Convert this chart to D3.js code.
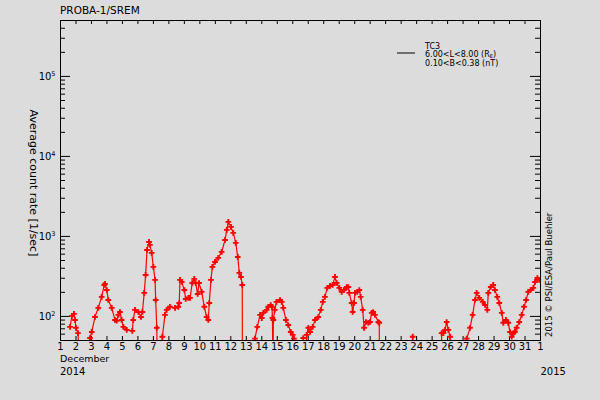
<!DOCTYPE html>
<html>
<head>
<meta charset="utf-8">
<script src="https://cdnjs.cloudflare.com/ajax/libs/d3/7.8.5/d3.min.js"></script>
<style>
body { margin: 0; background: #dcdcdc; }
svg { display: block; font-family: "DejaVu Sans", sans-serif; }
.axis path, .axis line { stroke: #000; stroke-width: 1; }
.axis text { fill: #000; font-size: 10px; font-family: "DejaVu Sans", sans-serif; }
</style>
</head>
<body>
<div id="chart"></div>
<script>

var title = "PROBA-1/SREM";
var yLabel = "Average count rate [1/sec]";
var credit = "2015 \u00a9 PSI/ESA/Paul Buehler";
var legendName = "TC3";
var legendL = "6.00<L<8.00";
var legendB = "0.10<B<0.38 (nT)";
var monthLabel = "December";
var yearStart = "2014";
var yearEnd = "2015";

// day-of-month tick labels (last one is 1 January)
var dayLabels = ["1","2","3","4","5","6","7","8","9","10","11","12","13","14","15","16",
                 "17","18","19","20","21","22","23","24","25","26","27","28","29","30","31","1"];
var decades = [100, 1000, 10000, 100000];
var decadeExps = ["2", "3", "4", "5"];

// time in days of December (fractional), count rate [1/sec]; 20 = below plotted range
var times = [
  1.65, 1.77, 1.90, 1.97, 2.03, 2.16, 2.30,
  2.90, 2.94, 3.05, 3.26, 3.47, 3.69, 3.86, 3.91, 4.02, 4.12, 4.34, 4.55, 4.66, 4.77, 4.87, 4.98,
  5.09, 5.31, 5.67, 5.73, 5.84, 6.06, 6.23, 6.32, 6.44, 6.53, 6.62, 6.75, 6.81, 6.92, 7.03, 7.14,
  7.18, 7.25, 7.29,
  7.58, 7.61, 7.78, 7.89, 8.10, 8.43, 8.64, 8.70, 8.75, 8.86, 9.03, 9.12, 9.29, 9.40, 9.54, 9.67,
  9.76, 9.89, 9.98, 10.15, 10.32, 10.47, 10.58, 10.64, 10.75, 10.84, 11.01, 11.22, 11.44, 11.66,
  11.77, 11.87, 12.04, 12.19, 12.35, 12.48, 12.58, 12.69, 12.77, 12.78,
  13.55, 13.59, 13.74, 13.92, 14.03, 14.13, 14.35, 14.45, 14.61, 14.69, 14.72, 14.75, 14.78, 14.87,
  14.98, 15.21, 15.32, 15.42, 15.59, 15.74, 15.90, 16.03, 16.11, 16.15,
  16.68, 16.71, 16.74,
  16.90, 16.93, 17.04, 17.15, 17.32, 17.47, 17.68, 17.84, 17.97, 18.11, 18.26, 18.44, 18.61, 18.76,
  18.87, 19.04, 19.19, 19.34, 19.52, 19.62, 19.68, 19.84, 19.90, 19.99, 20.05, 20.20, 20.33, 20.42,
  20.55, 20.64, 20.76, 20.91, 21.02, 21.13, 21.23, 21.34, 21.56, 21.62, 21.63,
  23.75, 23.78, 23.81,
  25.62, 25.65, 25.76, 25.87, 25.97, 26.08, 26.19, 26.22,
  27.24, 27.27, 27.48, 27.65, 27.80, 27.91, 28.08, 28.30, 28.45, 28.60, 28.66, 28.82, 28.98, 29.09,
  29.24, 29.37, 29.53, 29.63, 29.80, 29.95, 30.06, 30.17, 30.28, 30.38, 30.49, 30.66, 30.82, 30.97,
  31.10, 31.24, 31.40, 31.57, 31.68, 31.83, 31.95
];
var rates = [
  73, 100, 106, 89, 71, 61, 20,
  20, 53, 63, 97, 126, 173, 244, 251, 211, 158, 126, 89, 87, 103, 112, 89,
  73, 67, 65, 89, 119, 112, 97, 112, 194, 325, 668, 841, 772, 613, 410, 282,
  158, 71, 20,
  20, 55, 103, 119, 130, 126, 130, 145, 282, 266, 211, 163, 168, 168, 258, 290,
  258, 188, 258, 200, 130, 97, 89, 145, 282, 410, 473, 531, 631, 891,
  1189, 1496, 1296, 1090, 818, 546, 345, 307, 244, 20,
  20, 52, 73, 103, 94, 109, 119, 130, 137, 130, 94, 20, 89, 119,
  150, 158, 150, 126, 89, 77, 63, 58, 52, 20,
  20, 53, 20,
  20, 58, 71, 63, 73, 89, 97, 119, 150, 173, 224, 237, 244, 307,
  258, 224, 200, 211, 230, 230, 194, 145, 112, 145, 194, 200, 211, 173,
  119, 71, 84, 82, 84, 109, 112, 103, 84, 82, 20,
  20, 55, 20,
  20, 61, 61, 67, 84, 67, 55, 20,
  20, 52, 71, 103, 158, 194, 168, 150, 137, 119, 194, 230, 244, 211,
  173, 145, 109, 82, 89, 82, 63, 55, 61, 63, 71, 84, 103, 130,
  158, 200, 211, 224, 266, 298, 282
];

var margin = { left: 60, right: 60, top: 20, bottom: 60 };
var width = 600 - margin.left - margin.right;
var height = 400 - margin.top - margin.bottom;

var data = times.map(function(t, i) { return { t: t, v: rates[i] }; });

var svg = d3.select("#chart")
    .append("svg")
    .attr("width", 600)
    .attr("height", 400);

var x = d3.scaleLinear()
    .domain([1, 32])
    .range([margin.left, margin.left + width]);

var y = d3.scaleLog()
    .domain([50, 500000])
    .range([margin.top + height, margin.top]);

var minors = y.ticks().filter(function(d) { return decades.indexOf(d) < 0; });
var dayValues = dayLabels.map(function(d, i) { return i + 1; });

svg.append("defs").append("clipPath")
    .attr("id", "plotClip")
    .append("rect")
    .attr("x", margin.left)
    .attr("y", margin.top)
    .attr("width", width)
    .attr("height", height);

// left axis
svg.append("g")
    .attr("class", "axis")
    .attr("transform", "translate(" + margin.left + ",0)")
    .call(d3.axisLeft(y).tickValues(decades).tickSize(-10).tickSizeOuter(0).tickFormat(""));
svg.append("g")
    .attr("class", "axis")
    .attr("transform", "translate(" + margin.left + ",0)")
    .call(d3.axisLeft(y).tickValues(minors).tickSize(-5).tickSizeOuter(0).tickFormat(""));

// right axis
svg.append("g")
    .attr("class", "axis")
    .attr("transform", "translate(" + (margin.left + width) + ",0)")
    .call(d3.axisRight(y).tickValues(decades).tickSize(-10).tickSizeOuter(0).tickFormat(""));
svg.append("g")
    .attr("class", "axis")
    .attr("transform", "translate(" + (margin.left + width) + ",0)")
    .call(d3.axisRight(y).tickValues(minors).tickSize(-5).tickSizeOuter(0).tickFormat(""));

// top axis
svg.append("g")
    .attr("class", "axis")
    .attr("transform", "translate(0," + margin.top + ")")
    .call(d3.axisTop(x).tickValues(dayValues).tickSize(-4).tickSizeOuter(0).tickFormat(""));

// bottom axis
svg.append("g")
    .attr("class", "axis")
    .attr("transform", "translate(0," + (margin.top + height) + ")")
    .call(d3.axisBottom(x).tickValues(dayValues).tickSize(-4).tickSizeOuter(0).tickPadding(3)
        .tickFormat(function(d, i) { return dayLabels[i]; }));

// y tick labels 10^n
var yl = svg.selectAll(".ylab")
    .data(decades).enter()
    .append("text")
    .attr("class", "ylab")
    .attr("x", 55.5)
    .attr("y", function(d) { return y(d) + 4.3; })
    .style("text-anchor", "end")
    .style("font-size", "10px");
yl.append("tspan").text("10");
yl.append("tspan")
    .attr("dy", -4.5)
    .style("font-size", "6.5px")
    .text(function(d, i) { return decadeExps[i]; });

// data line and markers
var plot = svg.append("g").attr("clip-path", "url(#plotClip)");

var line = d3.line()
    .x(function(d) { return x(d.t); })
    .y(function(d) { return y(d.v); });

plot.append("path")
    .datum(data)
    .attr("fill", "none")
    .attr("stroke", "#ff0000")
    .attr("stroke-width", 1.2)
    .attr("d", line);

plot.selectAll(".mark")
    .data(data.filter(function(d) { return d.v >= 50; })).enter()
    .append("path")
    .attr("class", "mark")
    .attr("transform", function(d) { return "translate(" + x(d.t) + "," + y(d.v) + ")"; })
    .attr("d", d3.symbol(d3.symbolCross, 18))
    .attr("fill", "#ff0000");

// titles
svg.append("text")
    .attr("x", 60)
    .attr("y", 14)
    .style("font-size", "10.5px")
    .text(title);

svg.append("text")
    .attr("transform", "translate(29.5,183) rotate(90)")
    .style("text-anchor", "middle")
    .style("font-size", "11px")
    .text(yLabel);

svg.append("text")
    .attr("transform", "translate(551.5,337) rotate(-90)")
    .style("font-size", "8.5px")
    .text(credit);

svg.append("text")
    .attr("x", 60)
    .attr("y", 362)
    .style("font-size", "9.5px")
    .text(monthLabel);

svg.append("text")
    .attr("x", 60)
    .attr("y", 375)
    .style("font-size", "10px")
    .text(yearStart);

svg.append("text")
    .attr("x", 540.5)
    .attr("y", 375)
    .style("font-size", "10px")
    .text(yearEnd);

// legend
svg.append("line")
    .attr("x1", 397)
    .attr("x2", 415)
    .attr("y1", 53)
    .attr("y2", 53)
    .attr("stroke", "#000")
    .attr("stroke-width", 1);

svg.append("text")
    .attr("x", 425)
    .attr("y", 49)
    .style("font-size", "8px")
    .text(legendName);

var lt = svg.append("text")
    .attr("x", 425)
    .attr("y", 57)
    .style("font-size", "8px");
lt.append("tspan").text(legendL + " (R");
lt.append("tspan").attr("dy", 1).style("font-size", "5px").text("E");
lt.append("tspan").attr("dy", -1).text(")");

svg.append("text")
    .attr("x", 425)
    .attr("y", 65.5)
    .style("font-size", "8px")
    .text(legendB);

</script>
</body>
</html>
